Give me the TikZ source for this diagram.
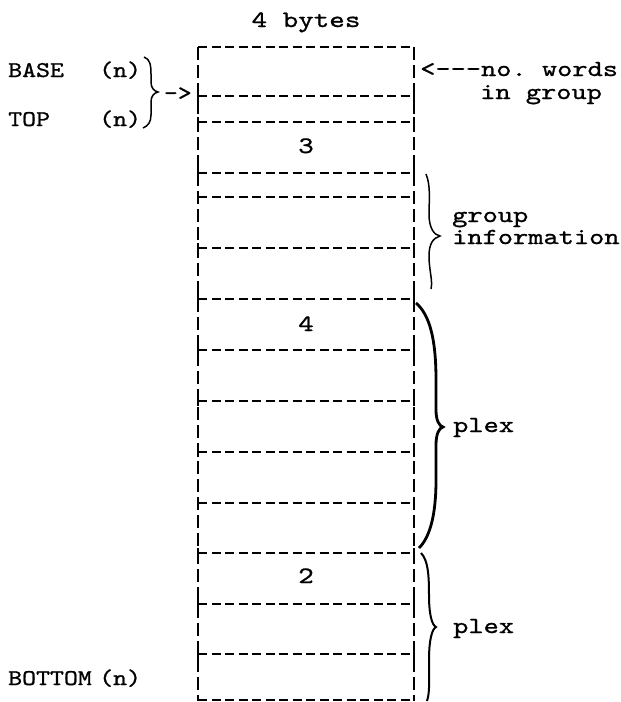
\documentclass[tikz,border=0pt]{standalone}
\usepackage{fontspec}
\newfontfamily\tw[FakeStretch=1.26,FakeBold=1.0]{lmmono10-regular.otf}
\newfontfamily\tws[FakeStretch=1.18,FakeBold=1.0]{lmmono10-regular.otf}
\begin{document}
\begin{tikzpicture}[x=1pt,y=-1pt,line cap=butt,
  hline/.style={line width=2.3pt,dash pattern=on 9pt off 4.5pt},
  vline/.style={line width=2.3pt,dash pattern=on 13pt off 5pt},
  tickmark/.style={line width=2.3pt},
  lab/.style={inner sep=0pt,anchor=base west,font=\tw\fontsize{23}{22}\selectfont},
  llab/.style={inner sep=0pt,anchor=base west,font=\tws\fontsize{22.5}{26}\selectfont},
  clab/.style={inner sep=0pt,anchor=base,font=\tw\fontsize{23.5}{26}\selectfont},
  thinbrace/.style={line width=1.5pt},
  thickbrace/.style={line width=2.8pt}]
\useasboundingbox (0,0) rectangle (621,702);
% box outline
\draw[hline] (198,47) -- (414,47);
\draw[vline] (198,47) -- (198,701);
\draw[vline] (414,47) -- (414,701);
\draw[hline] (198,700) -- (414,700);
% dividers
\foreach \yy in {96,122,173,197,248,299,350,401,452,503,553,604,654}{
  \draw[hline] (198,\yy) -- (414,\yy);
  \draw[tickmark] (198,{\yy-5}) -- (198,{\yy+5});
  \draw[tickmark] (414,{\yy-5}) -- (414,{\yy+5});
}
% texts in and above the box
\node[clab] (bytes) at (306,27) {4 bytes};
\node[clab] (three) at (306,153) {3};
\node[clab] (four) at (306,331) {4};
\node[clab] (two) at (306,583) {2};
% left labels
\node[llab] (base) at (8,77) {BASE};
\node[llab] (basen) at (99,77) {(n)};
\node[llab] (top) at (8,126) {TOP};
\node[llab] (topn) at (99,126) {(n)};
\node[llab] (bottom) at (8,685) {BOTTOM};
\node[llab] (bottomn) at (99,685) {(n)};
\draw[thinbrace] (144,57) .. controls (150,59) and (151,65) .. (151,74) -- (151,82)
  .. controls (151,88) and (154,91) .. (158,92) .. controls (154,93) and (151,96) .. (151,102)
  -- (151,115) .. controls (151,122) and (148,126) .. (143,128);
\node[llab,anchor=base east] (arrow) at (192,100) {->};
% right labels
\node[lab] (words) at (420,76) {<---no.~words};
\node[lab] (ingroup) at (480,99) {in group};
\node[lab,align=left] (groupinfo) at (452,244) {group\\information};
\node[lab] (plexa) at (453,432) {plex};
\node[lab] (plexb) at (453,633) {plex};
% braces
\draw[thinbrace] (426,174) .. controls (431,186) and (429,202) .. (429,214)
  .. controls (429,228) and (434,235) .. (440,236) .. controls (433,238) and (429,244) .. (429,256)
  .. controls (429,270) and (433,281) .. (431,289);
\draw[thickbrace] (416,303) .. controls (430,315) and (436,340) .. (436,380) -- (436,410)
  .. controls (436,420) and (439,426) .. (443,427) .. controls (439,428) and (436,434) .. (436,445)
  -- (436,480) .. controls (436,515) and (430,537) .. (419,548);
\draw[thinbrace,line width=2pt] (421,553) .. controls (428,560) and (429,575) .. (429,595)
  .. controls (429,615) and (432,625) .. (436,627) .. controls (432,629) and (429,640) .. (429,660)
  .. controls (429,680) and (430,692) .. (427,701);
\end{tikzpicture}
\end{document}
